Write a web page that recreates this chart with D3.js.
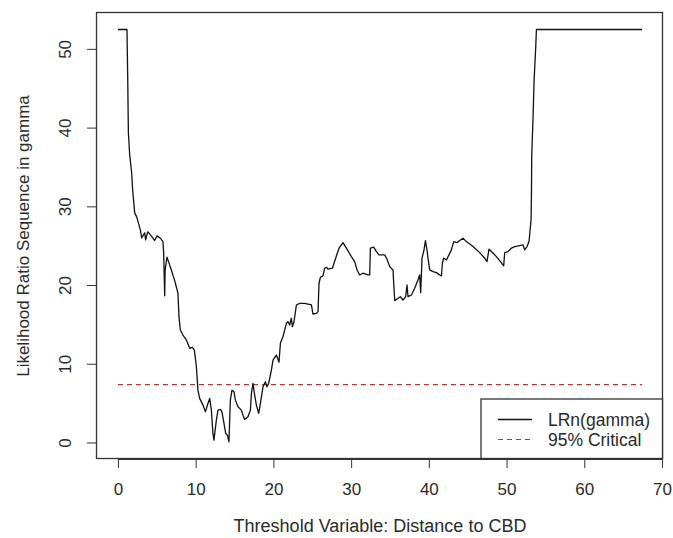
<!DOCTYPE html>
<html>
<head>
<meta charset="utf-8">
<script src="https://cdn.jsdelivr.net/npm/d3@7"></script>
<style>
    body { margin: 0; background: #ffffff; }
    text { font-family: "Liberation Sans", Arial, sans-serif; fill: #2a2a2a; }
</style>
</head>
<body>
<div id="lrChart"></div>
<script>

// threshold values (distance to CBD)
let thresholds = [0.00, 1.16, 1.25, 1.34, 1.51, 1.76, 1.89, 2.15, 2.41, 2.88, 3.05, 3.44, 3.56, 3.82, 4.08,
    4.50, 4.72, 5.02, 5.46, 5.79, 5.88, 6.01, 6.07, 6.31, 6.65, 7.00, 7.30, 7.72, 7.85, 8.03, 8.36, 8.80,
    9.23, 9.57, 9.83, 10.09, 10.29, 10.51, 10.94, 11.25, 11.58, 11.80, 12.02, 12.22, 12.35, 12.66, 12.87,
    13.18, 13.38, 13.64, 13.86, 14.08, 14.28, 14.46, 14.67, 14.93, 15.11, 15.44, 15.88, 16.09, 16.30, 16.73,
    17.04, 17.17, 17.37, 17.59, 17.81, 18.11, 18.36, 18.66, 18.97, 19.17, 19.39, 19.74, 19.95, 20.38, 20.72,
    20.90, 21.23, 21.67, 21.88, 22.09, 22.31, 22.44, 22.65, 22.96, 23.38, 24.02, 24.89, 25.09, 25.53, 25.74,
    25.87, 26.05, 26.38, 26.60, 26.82, 27.02, 27.59, 28.01, 28.44, 28.95, 29.39, 30.03, 30.46, 30.76, 31.10,
    31.53, 32.17, 32.39, 32.48, 32.90, 33.25, 33.59, 34.32, 34.62, 34.96, 35.39, 35.48, 35.61, 36.03, 36.34,
    36.67, 37.02, 37.19, 37.32, 37.76, 38.18, 38.60, 38.82, 38.95, 39.12, 39.38, 39.56, 39.76, 39.89, 40.11,
    40.54, 40.97, 41.40, 41.62, 41.74, 41.91, 42.26, 42.59, 42.90, 43.20, 43.62, 43.97, 44.40, 44.83, 45.68,
    46.54, 47.19, 47.48, 47.74, 48.05, 48.69, 49.21, 49.63, 49.76, 50.19, 50.62, 51.05, 51.69, 52.12, 52.33,
    52.63, 52.89, 53.07, 53.15, 53.20, 53.24, 53.40, 53.53, 53.75, 53.84, 67.43];

// likelihood ratio sequence LRn(gamma)
let lrValues = [52.46, 52.46, 46.73, 39.35, 36.55, 34.26, 32.10, 29.17, 28.66, 27.01, 25.99, 26.63, 25.74, 26.76, 26.50,
    25.95, 25.65, 26.25, 25.95, 25.52, 24.08, 18.63, 21.92, 23.54, 22.56, 21.50, 20.56, 18.96, 15.98, 14.29, 13.65, 13.02,
    11.96, 12.09, 11.74, 9.62, 6.65, 5.60, 4.75, 3.89, 4.96, 5.60, 4.11, 1.15, 0.29, 2.84, 4.11,
    4.20, 3.89, 2.42, 1.15, 0.93, 0.08, 5.38, 6.65, 6.44, 5.38, 4.53, 4.11, 3.47, 2.93, 3.26,
    4.11, 6.23, 7.51, 6.02, 4.75, 3.69, 5.17, 7.07, 7.71, 7.07, 7.51, 9.20, 10.47, 11.11, 10.20,
    12.60, 13.43, 15.14, 15.34, 14.92, 15.78, 14.71, 15.34, 17.47, 17.68, 17.68, 17.47, 16.32, 16.41, 16.62,
    20.23, 20.99, 21.16, 22.14, 22.26, 22.01, 22.14, 23.41, 24.68, 25.39, 24.68, 23.61, 22.98, 21.92, 21.28,
    21.50, 21.28, 21.28, 24.68, 24.81, 24.25, 23.83, 23.83, 23.28, 22.34, 21.92, 20.23, 18.01, 18.32, 18.52,
    18.10, 18.52, 20.01, 18.52, 18.74, 19.59, 20.65, 21.28, 19.03, 23.41, 24.47, 25.65, 24.47, 23.41, 21.92,
    21.70, 21.58, 21.28, 21.16, 22.77, 23.41, 23.19, 23.83, 24.47, 25.52, 25.39, 25.65, 25.95, 25.52, 24.89,
    24.12, 23.41, 22.98, 24.55, 24.25, 23.61, 22.98, 22.43, 24.12, 24.25, 24.68, 24.89, 25.01, 25.10, 24.47,
    24.89, 25.52, 27.43, 28.28, 31.46, 36.55, 41.00, 45.71, 50.17, 52.46, 52.46];

// 95% critical value
let criticalValue = 7.35;

let xTicks = [0, 10, 20, 30, 40, 50, 60, 70];
let yTicks = [0, 10, 20, 30, 40, 50];

let legendLabels = ["LRn(gamma)", "95% Critical"];


class LRChart {

    constructor(parentElement) {
        this.parentElement = parentElement;
        this.data = thresholds.map((t, i) => ({x: t, y: lrValues[i]}));
        this.initVis();
    }

    initVis() {
        let vis = this;

        let width = 673, height = 538;
        // plot box in pixels
        let box = {left: 97, right: 663, top: 13, bottom: 459};
        let critColor = "#a83a36";

        vis.svg = d3.select("#" + vis.parentElement).append("svg")
            .attr("width", width)
            .attr("height", height);

        vis.svg.append("rect")
            .attr("width", width)
            .attr("height", height)
            .attr("fill", "#ffffff");

        // R-style 4% padding around the data range
        let xExt = d3.extent(thresholds);
        let xPad = (xExt[1] - xExt[0]) * 0.04;
        let yExt = [0, d3.max(lrValues)];
        let yPad = (yExt[1] - yExt[0]) * 0.04;

        vis.xScale = d3.scaleLinear()
            .domain([xExt[0] - xPad, xExt[1] + xPad])
            .range([box.left, box.right]);

        vis.yScale = d3.scaleLinear()
            .domain([yExt[0] - yPad, yExt[1] + yPad])
            .range([box.bottom, box.top]);

        // x axis
        let xAxis = vis.svg.append("g")
            .attr("transform", "translate(0," + box.bottom + ")")
            .call(d3.axisBottom(vis.xScale).tickValues(xTicks).tickSize(9).tickPadding(15).tickSizeOuter(0));
        xAxis.select(".domain")
            .attr("d", "M" + vis.xScale(xTicks[0]) + ",0.5H" + vis.xScale(xTicks[xTicks.length - 1]))
            .attr("stroke", "#333");
        xAxis.selectAll("line").attr("stroke", "#333");
        xAxis.selectAll("text")
            .attr("font-size", "17px")
            .attr("font-family", "Liberation Sans, Arial, sans-serif")
            .attr("fill", "#2a2a2a");

        // y axis, labels turned like in base R
        let yAxis = vis.svg.append("g")
            .attr("transform", "translate(" + box.left + ",0)")
            .call(d3.axisLeft(vis.yScale).tickValues(yTicks).tickSize(10).tickSizeOuter(0));
        yAxis.select(".domain")
            .attr("d", "M-0.5," + vis.yScale(yTicks[0]) + "V" + vis.yScale(yTicks[yTicks.length - 1]))
            .attr("stroke", "#333");
        yAxis.selectAll("line").attr("stroke", "#333");
        yAxis.selectAll("text")
            .attr("x", null)
            .attr("dy", null)
            .attr("text-anchor", "middle")
            .attr("transform", "translate(-26,0) rotate(-90)")
            .attr("font-size", "17px")
            .attr("font-family", "Liberation Sans, Arial, sans-serif")
            .attr("fill", "#2a2a2a");

        // plot box
        vis.svg.append("rect")
            .attr("x", box.left - 0.5)
            .attr("y", box.top - 0.5)
            .attr("width", box.right - box.left)
            .attr("height", box.bottom - box.top)
            .attr("fill", "none")
            .attr("stroke", "#333")
            .attr("stroke-width", 1.3);

        // axis titles
        vis.svg.append("text")
            .attr("text-anchor", "middle")
            .attr("x", (box.left + box.right) / 2)
            .attr("y", 532)
            .attr("font-size", "18px")
            .text("Threshold Variable: Distance to CBD");

        vis.svg.append("text")
            .attr("text-anchor", "middle")
            .attr("transform", "translate(29," + ((box.top + box.bottom) / 2) + ") rotate(-90)")
            .attr("font-size", "17px")
            .text("Likelihood Ratio Sequence in gamma");

        // critical value line
        vis.svg.append("line")
            .attr("x1", vis.xScale(0))
            .attr("x2", vis.xScale(xExt[1]))
            .attr("y1", vis.yScale(criticalValue))
            .attr("y2", vis.yScale(criticalValue))
            .attr("stroke", critColor)
            .attr("stroke-width", 1.1)
            .attr("stroke-dasharray", "5,4");

        // LR sequence
        vis.svg.append("path")
            .datum(vis.data)
            .attr("fill", "none")
            .attr("stroke", "#111")
            .attr("stroke-width", 1.3)
            .attr("stroke-linejoin", "round")
            .attr("d", d3.line()
                .x(d => vis.xScale(d.x))
                .y(d => vis.yScale(d.y)));

        // legend, bottom right
        let legend = vis.svg.append("g")
            .attr("class", "legend");

        legend.append("rect")
            .attr("x", 481)
            .attr("y", 399)
            .attr("width", box.right - 481 - 0.5)
            .attr("height", box.bottom - 399 - 0.5)
            .attr("fill", "#ffffff")
            .attr("stroke", "#333")
            .attr("stroke-width", 1.3);

        let rowY = [419.5, 439.5];

        legend.append("line")
            .attr("x1", 498).attr("x2", 532)
            .attr("y1", rowY[0]).attr("y2", rowY[0])
            .attr("stroke", "#111")
            .attr("stroke-width", 1.3);

        legend.append("line")
            .attr("x1", 498).attr("x2", 532)
            .attr("y1", rowY[1]).attr("y2", rowY[1])
            .attr("stroke", critColor)
            .attr("stroke-width", 1.1)
            .attr("stroke-dasharray", "5,4");

        legend.selectAll("text.legendLabel")
            .data(legendLabels)
            .enter()
            .append("text")
            .attr("class", "legendLabel")
            .attr("x", 548)
            .attr("y", (d, i) => rowY[i] + 6)
            .attr("font-size", "17.5px")
            .text(d => d);
    }
}

let lrChart = new LRChart("lrChart");

</script>
</body>
</html>
